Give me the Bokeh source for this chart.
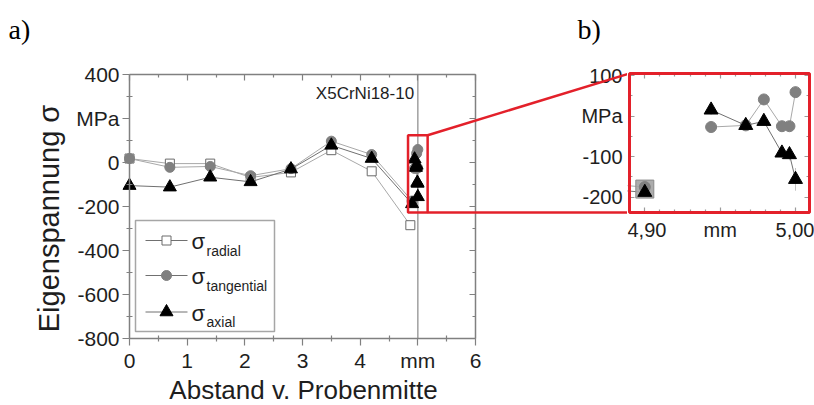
import math
from bokeh.plotting import figure
from bokeh.layouts import row
from bokeh.models import (Range1d, BoxAnnotation, Arrow, Label, LinearAxis,
                          FixedTicker, CustomJSTickFormatter)
from bokeh.embed import file_html
from bokeh.resources import INLINE

# ---------------- data ----------------
depth_mm = [0.0, 0.7, 1.4, 2.1, 2.8, 3.5, 4.2, 4.9]
radial_depth_mm = [0.0, 0.7, 1.4, 2.1, 2.8, 3.5, 4.2, 4.87]
sigma_radial = [18, -5, -5, -68, -45, 56, -40, -285]
sigma_tangential = [18, -22, -18, -60, -28, 97, 36, -175]
sigma_axial = [-105, -112, -67, -88, -30, 78, 18, -188]

surface_mm = [4.944, 4.967, 4.979, 4.991, 4.996, 5.000]
sigma_tangential_surface = [-27, -23, 41, -25, -25, 59]
sigma_axial_surface = [15, -23, -13, -91, -95, -156]
err_tangential_surface = [14, 10, 12, 10, 10, 14]
err_axial_surface = [12, 10, 10, 14, 14, 28]

radial_edge_mm = [4.90]
sigma_radial_edge = [-180]

main_x_ticks = [0, 1, 2, 3, 4, 5, 6]
main_x_labels = ["0", "1", "2", "3", "4", "mm", "6"]
main_y_ticks = [-800, -600, -400, -200, 0, 200, 400]
main_y_labels = ["-800", "-600", "-400", "-200", "0", "MPa", "400"]
inset_x_ticks = [4.90, 4.95, 5.00]
inset_x_labels = ["4,90", "mm", "5,00"]
inset_y_ticks = [-200, -100, 0, 100]
inset_y_labels = ["-200", "-100", "MPa", "100"]
legend_entries = [("σ", "radial"), ("σ", "tangential"), ("σ", "axial")]

# ---------------- layout / style ----------------
SANS = "Liberation Sans"
SERIF = "Liberation Serif"
AXC = "#808080"
TXT = "#1e1e1e"
RED = "#e3202a"
LINE_LIGHT = "#a8a8a8"
LINE_DARK = "#707070"

W_MAIN, W_TOTAL, H = 627, 814, 405


def lin(p0, v0, p1, v1):
    return lambda px: v0 + (px - p0) * (v1 - v0) / (p1 - p0)


# page-pixel -> data mappings (each canvas is one full-size frame)
mfx = lin(129, 0, 475, 6)
mfy = lin(74, 400, 338, -800)
ifx = lin(644.3, 4.90, 795, 5.00)
ify = lin(75, 100, 196.7, -200)

MAIN_XR = (mfx(0), mfx(W_MAIN))
MAIN_YR = (mfy(H), mfy(0))
INSET_XR = (ifx(W_MAIN), ifx(W_TOTAL))
INSET_YR = (ify(H), ify(0))
INSET_BOX = dict(left=ifx(629), right=ifx(809), top=ify(73), bottom=ify(212))
ZOOM_BOX = dict(left=4.83, right=5.17, bottom=-227, top=124)

blank = CustomJSTickFormatter(code="return ''")


def minor_between(ticks, n):
    out = []
    for a, b in zip(ticks[:-1], ticks[1:]):
        for k in range(1, n + 1):
            out.append(round(a + (b - a) * k / (n + 1), 4))
    return out


def style_axis(ax, ticks, minor, labels, t_in, t_out, m_in, m_out, color, font_size,
               line_color=None, standoff=3):
    ax.ticker = FixedTicker(ticks=ticks, minor_ticks=minor)
    if labels is not None:
        ax.major_label_overrides = {t: lab for t, lab in zip(ticks, labels)}
        ax.major_label_standoff = standoff
    else:
        ax.formatter = blank
        ax.major_label_standoff = 0
    ax.major_tick_in, ax.major_tick_out = t_in, t_out
    ax.minor_tick_in, ax.minor_tick_out = m_in, m_out
    ax.major_tick_line_color = color
    ax.minor_tick_line_color = color
    ax.major_tick_line_width = 1.2
    ax.minor_tick_line_width = 1.2
    ax.axis_line_color = line_color
    ax.axis_line_width = 1.5
    ax.major_label_text_font = SANS
    ax.major_label_text_font_size = font_size
    ax.major_label_text_color = TXT


def text(fig, px, py, s, size, font=SANS, align="left", angle=0.0, color=TXT, fx=None, fy=None):
    fig.add_layout(Label(x=fx(px), y=fy(py), text=s, angle=angle, text_font=font,
                         text_font_size=size, text_color=color, text_align=align,
                         text_baseline="middle"))


def draw_series(fig, sq, circ, tri, edge_style):
    fig.line(radial_depth_mm, sigma_radial, line_color=LINE_LIGHT, line_width=1)
    fig.line(depth_mm, sigma_tangential, line_color=LINE_LIGHT, line_width=1)
    fig.line(depth_mm, sigma_axial, line_color=LINE_DARK, line_width=1)
    fig.line(surface_mm, sigma_tangential_surface, line_color=LINE_LIGHT, line_width=1)
    fig.line(surface_mm, sigma_axial_surface, line_color=LINE_DARK, line_width=1)
    fig.scatter(radial_edge_mm, sigma_radial_edge, marker="square", **edge_style)
    fig.scatter(radial_depth_mm, sigma_radial, marker="square", size=sq, fill_color="white",
                line_color="#6a6a6a", line_width=1)
    fig.scatter(depth_mm, sigma_tangential, marker="circle", size=circ, fill_color="#808080",
                line_color="#808080")
    fig.scatter(surface_mm, sigma_tangential_surface, marker="circle", size=circ,
                fill_color="#808080", line_color="#808080")
    fig.scatter(depth_mm, sigma_axial, marker="triangle", size=tri, fill_color="black",
                line_color="black")
    fig.scatter(surface_mm, sigma_axial_surface, marker="triangle", size=tri,
                fill_color="black", line_color="black")


def bare_figure(width, xr, yr):
    f = figure(width=width, height=H, x_range=Range1d(*xr), y_range=Range1d(*yr),
               output_backend="svg", toolbar_location=None, min_border=0,
               min_border_left=0, min_border_right=0, min_border_top=0, min_border_bottom=0)
    f.grid.visible = False
    f.outline_line_color = None
    f.background_fill_color = "white"
    f.border_fill_color = "white"
    return f


# ---------------- main plot (a) ----------------
p = bare_figure(W_MAIN, MAIN_XR, MAIN_YR)
x_lo, x_hi = main_x_ticks[0], main_x_ticks[-1]
y_lo, y_hi = main_y_ticks[0], main_y_ticks[-1]
mx_minor = minor_between(main_x_ticks, 1)
my_minor = minor_between(main_y_ticks, 1)

bx = p.xaxis[0]
bx.fixed_location = y_lo
bx.bounds = (x_lo, x_hi)
style_axis(bx, main_x_ticks, mx_minor, main_x_labels, 0, 7, 3, 3, AXC, "21px",
           line_color=AXC, standoff=3)
ly = p.yaxis[0]
ly.fixed_location = x_lo
ly.bounds = (y_lo, y_hi)
style_axis(ly, main_y_ticks, my_minor, main_y_labels, 0, 7, 3, 3, AXC, "21px",
           line_color=AXC, standoff=3)

top_ax = LinearAxis(fixed_location=y_hi, bounds=(x_lo, x_hi))
style_axis(top_ax, main_x_ticks, mx_minor, None, 6, 0, 3, 0, AXC, "21px", line_color=AXC)
p.add_layout(top_ax, "above")
right_ax = LinearAxis(fixed_location=x_hi, bounds=(y_lo, y_hi))
style_axis(right_ax, main_y_ticks, my_minor, None, 6, 0, 3, 0, AXC, "21px", line_color=AXC)
p.add_layout(right_ax, "right")

# tick labels of the inset's y axis, left of the inset frame
p.extra_y_ranges = {"inset": Range1d(*INSET_YR)}
inset_lab_ax = LinearAxis(y_range_name="inset", fixed_location=mfx(628),
                          bounds=(INSET_BOX["bottom"], INSET_BOX["top"]))
style_axis(inset_lab_ax, inset_y_ticks, [], inset_y_labels, 0, 0, 0, 0, None, "20px",
           standoff=6)
p.add_layout(inset_lab_ax, "left")

mt = dict(fx=mfx, fy=mfy)
# axis titles and panel tags
text(p, 48, 218, "Eigenspannung σ", "29px", align="center", angle=math.pi / 2, **mt)
text(p, 303, 389, "Abstand v. Probenmitte", "26px", align="center", **mt)
text(p, 8, 29, "a)", "28px", font=SERIF, color="black", **mt)
text(p, 577, 29, "b)", "28px", font=SERIF, color="black", **mt)
text(p, 364.5, 93, "X5CrNi18-10", "17px", align="center", **mt)

# surface marker line at x = 5 mm
p.segment(x0=[main_x_ticks[5]], y0=[y_lo], x1=[main_x_ticks[5]], y1=[y_hi],
          line_color="#a0a0a0", line_width=1.5)

draw_series(p, 9, 10, 13, dict(size=9, fill_color="white", line_color="#9a9a9a"))

# legend (manual, for subscripts)
LG = dict(left=135, right=274, top=220, bottom=331, rows=[240, 275, 311.5],
          line=(145, 187), marker=166, sigma_x=191, sub_x=206)
p.add_layout(BoxAnnotation(left=mfx(LG["left"]), right=mfx(LG["right"]),
                           top=mfy(LG["top"]), bottom=mfy(LG["bottom"]),
                           fill_color=None, line_color="#a6a6a6", line_alpha=1.0,
                           line_width=1.5))
leg_styles = [
    dict(marker="square", size=9, fill_color="white", line_color="#6a6a6a"),
    dict(marker="circle", size=10, fill_color="#808080", line_color="#808080"),
    dict(marker="triangle", size=13, fill_color="black", line_color="black"),
]
for cy, (sym, sub), st in zip(LG["rows"], legend_entries, leg_styles):
    p.line([mfx(LG["line"][0]), mfx(LG["line"][1])], [mfy(cy), mfy(cy)],
           line_color=LINE_DARK, line_width=1)
    p.scatter([mfx(LG["marker"])], [mfy(cy)], **st)
    text(p, LG["sigma_x"], cy + 1, sym, "22px", **mt)
    text(p, LG["sub_x"], cy + 10, sub, "14px", **mt)

# zoom box + connectors to the inset frame
p.add_layout(BoxAnnotation(fill_color=None, line_color=RED, line_alpha=1.0, line_width=2.5,
                           **ZOOM_BOX))
for y_from, py_to in ((ZOOM_BOX["top"], 73), (ZOOM_BOX["bottom"], 212)):
    p.add_layout(Arrow(end=None, x_start=ZOOM_BOX["right"], y_start=y_from,
                       x_end=mfx(629), y_end=mfy(py_to),
                       line_color=RED, line_width=2.5))

# ---------------- inset (b) ----------------
q = bare_figure(W_TOTAL - W_MAIN, INSET_XR, INSET_YR)
ix_minor = [round(4.89 + 0.01 * k, 2) for k in range(12) if k not in (1, 6, 11)]
iy_minor = minor_between(inset_y_ticks, 1)
TICKC = "#9a9a9a"
xb_bounds = (INSET_BOX["left"], INSET_BOX["right"])
yb_bounds = (INSET_BOX["bottom"], INSET_BOX["top"])

qb = q.xaxis[0]
qb.fixed_location = INSET_BOX["bottom"]
qb.bounds = xb_bounds
style_axis(qb, inset_x_ticks, ix_minor, inset_x_labels, 5, 0, 3, 0, TICKC, "20px", standoff=6)
ql = q.yaxis[0]
ql.fixed_location = INSET_BOX["left"]
ql.bounds = yb_bounds
style_axis(ql, inset_y_ticks, iy_minor, None, 5, 0, 3, 0, TICKC, "20px")
qt = LinearAxis(fixed_location=INSET_BOX["top"], bounds=xb_bounds)
style_axis(qt, inset_x_ticks, ix_minor, None, 5, 0, 3, 0, TICKC, "20px")
q.add_layout(qt, "above")
qr = LinearAxis(fixed_location=INSET_BOX["right"], bounds=yb_bounds)
style_axis(qr, inset_y_ticks, iy_minor, None, 5, 0, 3, 0, TICKC, "20px")
q.add_layout(qr, "right")

# error bars
q.segment(x0=surface_mm, x1=surface_mm,
          y0=[v - e for v, e in zip(sigma_tangential_surface, err_tangential_surface)],
          y1=[v + e for v, e in zip(sigma_tangential_surface, err_tangential_surface)],
          line_color="#c4c4c4", line_width=1)
q.segment(x0=surface_mm, x1=surface_mm,
          y0=[v - e for v, e in zip(sigma_axial_surface, err_axial_surface)],
          y1=[v + e for v, e in zip(sigma_axial_surface, err_axial_surface)],
          line_color="#c4c4c4", line_width=1)

draw_series(q, 9, 11, 14, dict(size=18, fill_color="#a3a3a3", line_color="#8a8a8a",
                               fill_alpha=0.9))

q.add_layout(BoxAnnotation(fill_color=None, line_color=RED, line_alpha=1.0, line_width=3,
                           **INSET_BOX))

layout = row(p, q)
open("out.html", "w").write(file_html(layout, INLINE))
